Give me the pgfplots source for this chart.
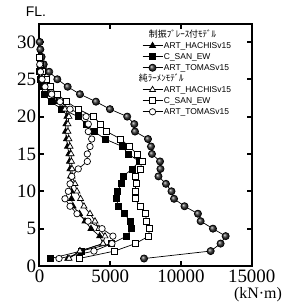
\documentclass[border=0pt]{standalone}
\usepackage{pgfplots}
\pgfplotsset{compat=1.18}
\usepackage{fontspec}
\setmainfont{Liberation Serif}
\newfontfamily\arial{Liberation Sans}
\newfontfamily\jp{Noto Sans CJK JP}
\begin{document}
\begin{tikzpicture}
\begin{axis}[
  scale only axis, width=212.2bp, height=242bp,
  xmin=0, xmax=15000, ymin=0, ymax=32.4,
  scaled x ticks=false, scaled y ticks=false,
  xtick={0,5000,10000,15000}, xticklabels={0,5000,10000,15000},
  ytick={0,5,10,15,20,25,30}, yticklabels={0,5,10,15,20,25,30},
  tick label style={font=\fontsize{19}{19}\selectfont},
  tick align=inside, major tick length=5bp,
  tick style={line width=2bp, black},
  axis line style={line width=2bp},
  every axis plot/.append style={black, line width=0.7bp, mark options={solid, line width=0.7bp}},
  legend style={draw=none, fill=none, at={(0.483,0.977)}, anchor=north west,
    font=\arial\fontsize{8.5}{8.5}\selectfont, row sep=1bp, inner sep=0pt,
    nodes={inner sep=1bp, text height=6.5bp, text depth=1.5bp}},
  legend cell align=left,
  legend image code/.code={\draw[mark repeat=2,mark phase=2] plot coordinates {(0bp,0bp) (10bp,0bp) (20bp,0bp)};},
]
\addlegendimage{empty legend}
\addlegendentry{\hspace*{-15bp}\jp\fontsize{9}{9}\selectfont 制振ﾌﾞﾚｰｽ付ﾓﾃﾞﾙ}
% ART_HACHISv15 brace
\addplot[mark=triangle*, mark size=3.5bp, mark options={fill=black}] coordinates {
(2000,1) (2860,2) (4490,3) (4250,4) (3640,5) (3220,6) (2830,7) (2370,8) (2260,9) (2260,10)
(2230,11) (2190,12) (2160,13) (2120,14) (2080,15) (1980,16) (1910,17) (1840,18) (1870,19) (1940,20)
(1660,21) (1240,22) (740,23) (390,24) (180,25) (70,26) (30,27) (10,28)};
\addlegendentry{ART\_HACHISv15}
% C_SAN_EW brace
\addplot[mark=square*, mark size=3bp, mark options={fill=black}] coordinates {
(790,1) (2930,2) (5100,3) (6160,4) (6520,5) (6400,6) (6010,7) (5600,8) (5410,9) (5480,10)
(5810,11) (5900,12) (6560,13) (7050,14) (6280,15) (5850,16) (4630,17) (3870,18) (3290,19) (2740,20)
(1570,21) (810,22) (340,23) (100,24) (40,25) (10,26)};
\addlegendentry{C\_SAN\_EW}
% ART_TOMASv15 brace
\addplot[mark=ball, mark size=3.6bp, mark options={ball color=gray!45!black}] coordinates {
(7390,1) (12100,2) (12800,3) (13160,4) (12260,5) (11390,6) (11200,7) (10250,8) (9510,9) (9330,10)
(8940,11) (8410,12) (8550,13) (8520,14) (7950,15) (7880,16) (7670,17) (6750,18) (6700,19) (6200,20)
(4980,21) (3990,22) (2860,23) (1990,24) (1260,25) (690,26) (300,27) (150,28) (60,29) (20,30)};
\addlegendentry{ART\_TOMASv15}
\addlegendimage{empty legend}
\addlegendentry{\hspace*{-25bp}\jp\fontsize{9}{9}\selectfont 純ﾗｰﾒﾝﾓﾃﾞﾙ}
% ART_HACHISv15 frame
\addplot[mark=triangle*, mark size=3.5bp, mark options={fill=white}] coordinates {
(2090,1) (2860,2) (4490,3) (4630,4) (4200,5) (3920,6) (3570,7) (3140,8) (2900,9) (2650,10)
(2510,11) (2300,12) (2300,13) (2260,14) (2230,15) (2160,16) (2080,17) (2010,18) (2010,19) (2080,20)
(1800,21) (1380,22) (880,23) (460,24) (210,25) (100,26) (40,27) (10,28)};
\addlegendentry{ART\_HACHISv15}
% C_SAN_EW frame
\addplot[mark=square*, mark size=3bp, mark options={fill=white}] coordinates {
(2790,1) (5310,2) (6780,3) (7720,4) (7750,5) (7580,6) (7480,7) (7100,8) (6750,9) (6750,10)
(6820,11) (6750,12) (7100,13) (7280,14) (6890,15) (6330,16) (5740,17) (4750,18) (4330,19) (3800,20)
(2740,21) (1920,22) (1260,23) (740,24) (510,25) (230,26) (80,27) (20,28)};
\addlegendentry{C\_SAN\_EW}
% ART_TOMASv15 frame
\addplot[mark=*, mark size=3.2bp, mark options={fill=white}] coordinates {
(1380,1) (3850,2) (5120,3) (5190,4) (4420,5) (3430,6) (2650,7) (2160,8) (1800,9) (2040,10)
(2160,11) (2280,12) (2740,13) (3380,14) (3380,15) (3570,16) (3690,17) (3450,18) (3450,19) (3290,20)
(2160,21) (1450,22) (860,23) (390,24) (180,25) (70,26) (20,27)};
\addlegendentry{ART\_TOMASv15}
\end{axis}
\node[font=\arial\fontsize{14}{14}\selectfont] at ([xshift=-3.5bp,yshift=12.3bp]current axis.north west) {FL.};
\node[font=\fontsize{16}{16}\selectfont] at ([xshift=6.3bp,yshift=-29bp]current axis.south east) {(kN·m)};
\pgfresetboundingbox
\path ([xshift=-39.5bp,yshift=-37bp]current axis.south west) rectangle ([xshift=48.3bp,yshift=24bp]current axis.north east);
\end{tikzpicture}
\end{document}
